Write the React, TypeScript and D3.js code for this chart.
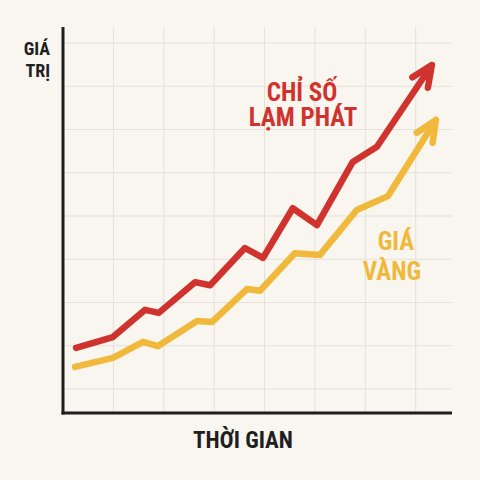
import React from "react";
import * as d3 from "d3";

const inflationTime = [0.26, 0.99, 1.63, 1.9, 2.62, 2.92, 3.61, 3.97, 4.56, 5.04, 5.75, 6.23, 7.32];
const inflationValues = [1.95, 2.2, 2.83, 2.76, 3.47, 3.4, 4.26, 4.03, 5.18, 4.79, 6.25, 6.6, 8.49];
const goldTime = [0.24, 0.99, 1.59, 1.88, 2.66, 2.96, 3.65, 3.91, 4.6, 5.1, 5.83, 6.45, 7.4];
const goldValues = [1.51, 1.72, 2.09, 1.99, 2.57, 2.55, 3.31, 3.27, 4.14, 4.1, 5.14, 5.46, 7.22];
const xGridTicks = [1, 2, 3, 4, 5, 6, 7];
const yGridTicks = [1, 2, 3, 4, 5, 6, 7, 8, 9];

const RED = "#d0322d";
const YELLOW = "#f0b93b";
const BG = "#f9f6f0";
const FONT = "'Liberation Sans Narrow', 'Roboto Condensed', Roboto, 'Liberation Sans', sans-serif";

export default function App() {
  const x = d3.scaleLinear().domain([0, 7.72]).range([63, 452]);
  const y = d3.scaleLinear().domain([0.445, 9.37]).range([413, 27]);
  const line = d3
    .line<[number, number]>()
    .x((d) => x(d[0]))
    .y((d) => y(d[1]));

  const series = [
    { t: inflationTime, v: inflationValues, color: RED },
    { t: goldTime, v: goldValues, color: YELLOW },
  ];

  const arrow = (t: number[], v: number[]) => {
    const n = t.length;
    const x1 = x(t[n - 2]), y1 = y(v[n - 2]);
    const x2 = x(t[n - 1]), y2 = y(v[n - 1]);
    const a = Math.atan2(y1 - y2, x1 - x2);
    const len = 23;
    const da = (24 * Math.PI) / 180;
    const p1 = [x2 + len * Math.cos(a + da), y2 + len * Math.sin(a + da)];
    const p2 = [x2 + len * Math.cos(a - da), y2 + len * Math.sin(a - da)];
    return `M${p1[0]},${p1[1]}L${x2},${y2}L${p2[0]},${p2[1]}`;
  };

  const [x0, x1] = x.range();
  const [yb, yt] = y.range();

  return (
    <>
      <style>{`body{margin:0;background:${BG};}`}</style>
      <svg width={480} height={480} style={{ display: "block", background: BG }}>
        <rect width={480} height={480} fill={BG} />
        <g stroke="#e4e0d8" strokeWidth={1}>
          {xGridTicks.map((t) => (
            <line key={"gx" + t} x1={x(t)} x2={x(t)} y1={yt} y2={yb} />
          ))}
          {yGridTicks.map((t) => (
            <line key={"gy" + t} x1={x0} x2={x1} y1={y(t)} y2={y(t)} />
          ))}
        </g>
        <line x1={x0} x2={x0} y1={yt} y2={yb + 1.5} stroke="#1f1f1f" strokeWidth={3} />
        <line x1={x0 - 1.5} x2={x1} y1={yb} y2={yb} stroke="#1f1f1f" strokeWidth={3} />
        {series.map((s, i) => (
          <g key={i} fill="none" stroke={s.color} strokeWidth={6.5} strokeLinejoin="round" strokeLinecap="round">
            <path d={line(s.t.map((t, j) => [t, s.v[j]]) as [number, number][]) || ""} />
            <path d={arrow(s.t, s.v)} />
          </g>
        ))}
        <g fontFamily={FONT} fontWeight="bold">
          <text x={50} y={55} fontSize={18} textAnchor="end" fill="#1f1f1f">GIÁ</text>
          <text x={50} y={77} fontSize={18} textAnchor="end" fill="#1f1f1f">TRỊ</text>
          <text x={302} y={101} fontSize={25} textAnchor="middle" fill={RED}>CHỈ SỐ</text>
          <text x={303} y={126} fontSize={25} textAnchor="middle" fill={RED}>LẠM PHÁT</text>
          <text x={396} y={250} fontSize={25} textAnchor="middle" fill={YELLOW}>GIÁ</text>
          <text x={392} y={280} fontSize={25} textAnchor="middle" fill={YELLOW}>VÀNG</text>
          <text x={243} y={448} fontSize={23} textAnchor="middle" fill="#1f1f1f">THỜI GIAN</text>
        </g>
      </svg>
    </>
  );
}
